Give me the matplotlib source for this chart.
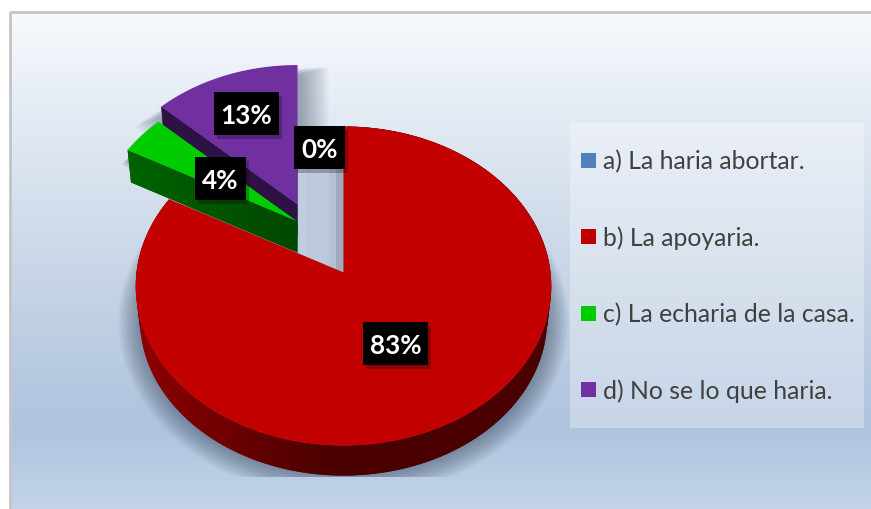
import numpy as np
import matplotlib
matplotlib.use('Agg')
from matplotlib import pyplot as plt
from matplotlib.colors import LinearSegmentedColormap
from matplotlib.patches import Polygon, Rectangle

# datos
categories = ['a) La haria abortar.', 'b) La apoyaria.',
              'c) La echaria de la casa.', 'd) No se lo que haria.']
values = [0, 83, 4, 13]
colors = ['#4f81bd', '#c00000', '#00cc00', '#7030a0']

# posicion de cada trozo en pixeles
apex_x = [343.5, 343.5, 297.5, 297.5]
apex_y = [273.5, 273.5, 222.5, 205.5]
scales = [1.0, 1.0, 0.975, 0.955]
label_x = [319.5, 395.5, 220.5, 246.5]
label_y = [148.5, 344.5, 179.5, 114.5]

RX, RY, K = 207, 158.4, 0.0847   # perspectiva del disco

fig = plt.figure(figsize=(8.71, 5.10), dpi=100)
ax = fig.add_axes([0, 0, 1, 1])
ax.set_xlim(0, 871)
ax.set_ylim(510, 0)
ax.autoscale(False)
ax.axis('off')


def project(theta, r, i):
    u, v = r * np.sin(theta), r * np.cos(theta)
    w = 1 + K * v
    return (apex_x[i] + scales[i] * RX * u / w,
            apex_y[i] - scales[i] * RY * v / w)


def lower(x, y, i, depth):
    return (apex_x[i] + 0.98 * (x - apex_x[i]),
            apex_y[i] + depth + 0.98 * (y - apex_y[i]))


def lerp(c0, c1, t):
    return tuple((np.array(c0) + (np.array(c1) - np.array(c0)) * t) / 255)


def side_strip(x, y, xb, yb, color_of, z):
    # cada tira pisa a la anterior para que no se vean costuras
    n = len(x)
    for j in range(n - 1):
        k = min(j + 2, n - 1)
        ax.fill([x[j], x[k], xb[k], xb[j]], [y[j], y[k], yb[k], yb[j]],
                color=color_of(j), lw=0, zorder=z)


# fondo
bg = LinearSegmentedColormap.from_list('bg', [
    (0.0, '#f7fafe'), (0.2, '#e4ebf4'), (0.55, '#c6d4e6'),
    (0.84, '#aec3de'), (1.0, '#c3d4e9')])
ax.add_patch(Rectangle((10, 13), 880, 510, fc='none', ec='#c4c4c4', lw=2, zorder=3))
ax.imshow(np.linspace(0, 1, 256)[:, None], cmap=bg, extent=(10, 871, 510, 13),
          aspect='auto', zorder=1)

# angulos
fractions = np.array(values) / sum(values)
ends = np.cumsum(fractions) * 2 * np.pi
starts = ends - fractions * 2 * np.pi

# sombras
th = np.linspace(0, 2 * np.pi, 200)
tx, ty = project(th, 1, 1)
bx, by = lower(tx, ty, 1, 33.5)
clip = Rectangle((0, 0), 871, 478, transform=ax.transData)
for g in np.linspace(22, 1, 18):
    sx = 344 + (bx - 344) * (1 + g / 208)
    sy = 300 + (by - 300) * (1 + g / 170)
    p = ax.fill(sx, sy, color='#33445a', alpha=0.03, lw=0, zorder=2.2)[0]
    p.set_clip_path(clip)

for i in [3, 2]:
    t = np.linspace(starts[i], ends[i], 30)
    x, y = project(t, 1, i)
    px = np.r_[apex_x[i], x]
    py = np.r_[apex_y[i], y]
    mx, my = px.mean(), py.mean()
    for g in np.linspace(30, 1, 24):
        f = 1 + g / 70
        ax.fill(mx + (px - mx) * f + 2, my + (py - my) * f + 10, color='#33445a',
                alpha=0.02, lw=0, zorder=2.3)

# hueco de la porcion que falta
gap = Polygon([(297.5, 170), (343.5, 170), (343.5, 273.5), (297.5, 254)], transform=ax.transData)
im = ax.imshow(np.array([[0.0, 0.1, 0.05, 0.1, 0.35, 1.0]]), extent=(297.5, 343.5, 273.5, 170),
               cmap=LinearSegmentedColormap.from_list('g', ['#bfcddf', '#a0acbb']),
               aspect='auto', zorder=2.5)
im.set_clip_path(gap)

# trozos separados: cara lateral y cara superior
side_left = [None, None, (0, 98, 0), (46, 18, 69)]
side_right = [None, None, (0, 72, 0), (46, 18, 69)]
for i in [3, 2]:
    r = np.linspace(0, 1, 41)
    x, y = project(np.full(41, starts[i]), r, i)
    xb, yb = lower(x, y, i, 31)
    side_strip(x, y, xb, yb, lambda j: lerp(side_right[i], side_left[i], j / 39), 4)
    t = np.linspace(starts[i], ends[i], 30)
    x, y = project(t, 1, i)
    ax.fill(np.r_[apex_x[i], x], np.r_[apex_y[i], y], color=colors[i], lw=0, zorder=4)

# lateral rojo
t = np.linspace(starts[1], ends[1], 241)
x, y = project(t, 1, 1)
xb, yb = lower(x, y, 1, 33.5)
side_strip(x, y, xb, yb,
           lambda j: lerp((140, 0, 0), (74, 0, 0), np.clip((x[j] - 140) / 190, 0, 1)), 5)
ax.fill(np.r_[apex_x[1], x], np.r_[apex_y[1], y], color='#c20000', lw=0, zorder=6)

# etiquetas
for i, v in enumerate(values):
    w = 51 if v < 10 else 65
    ax.add_patch(Rectangle((label_x[i] - w / 2 + 3, label_y[i] - 21.5 + 4), w, 43,
                           fc='black', alpha=0.25, lw=0, zorder=7))
    ax.add_patch(Rectangle((label_x[i] - w / 2, label_y[i] - 21.5), w, 43,
                           fc='black', lw=0, zorder=8))
    ax.text(label_x[i], label_y[i] + 1.5, f'{v}%', color='white', fontsize=18.8,
            fontweight='bold', family='Lato', ha='center', va='center', zorder=9)

# leyenda
ax.add_patch(Rectangle((570, 124), 294, 305, fc='white', alpha=0.3, lw=0, zorder=3))
legend_y = [161.5, 237.5, 314.5, 390.5]
for name, c, ly in zip(categories, colors, legend_y):
    ax.add_patch(Rectangle((581, ly - 7.5), 15, 15, fc=c, lw=0, zorder=4))
    ax.text(603, ly + 0.5, name, color='#404040', fontsize=17.8, family='Lato',
            ha='left', va='center', zorder=4)

fig.savefig('out.png', dpi=100)
